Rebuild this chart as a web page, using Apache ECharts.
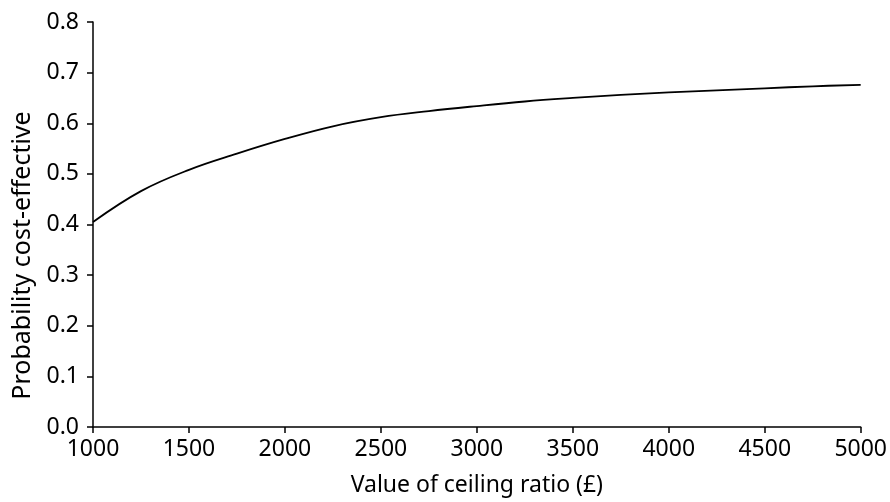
<!DOCTYPE html>
<html><head><meta charset="utf-8">
<script src="https://cdn.jsdelivr.net/npm/echarts@6/dist/echarts.min.js"></script>
<style>html,body{margin:0;padding:0;background:#fff}#c{width:890px;height:502px}</style>
</head><body><div id="c"></div>
<script>
const ceilingRatio = [1000,1250,1500,1750,2000,2250,2500,2750,3000,3250,3500,3750,4000,4250,4500,4750,5000];
const probCostEffective = [0.405,0.466,0.508,0.540,0.569,0.594,0.612,0.624,0.634,0.643,0.650,0.656,0.661,0.665,0.669,0.673,0.676];
const xAxisTitle = 'Value of ceiling ratio (£)';
const yAxisTitle = 'Probability cost-effective';

const chart = echarts.init(document.getElementById('c'));
const font = 'Noto Sans, Open Sans, sans-serif';
chart.setOption({
  animation: false,
  grid: {left: 93, right: 28, top: 22, bottom: 72},
  xAxis: {
    type: 'value', min: 1000, max: 5000, interval: 500,
    name: xAxisTitle, nameLocation: 'middle', nameGap: 47,
    nameTextStyle: {color: '#000', fontSize: 23, fontFamily: font},
    axisLine: {lineStyle: {color: '#000', width: 1.5}},
    axisTick: {show: true, length: 6, lineStyle: {color: '#000', width: 1.5}},
    axisLabel: {color: '#000', fontSize: 23, fontFamily: font, margin: 11,
      formatter: v => String(v)},
    splitLine: {show: false}
  },
  yAxis: {
    type: 'value', min: 0, max: 0.8, interval: 0.1,
    name: yAxisTitle, nameLocation: 'middle', nameGap: 57,
    nameTextStyle: {color: '#000', fontSize: 25, fontFamily: font, padding: [0, 62, 0, 0]},
    axisLine: {show: true, lineStyle: {color: '#000', width: 1.5}},
    axisTick: {show: true, length: 6, lineStyle: {color: '#000', width: 1.5}},
    axisLabel: {color: '#000', fontSize: 23, fontFamily: font, margin: 14,
      formatter: v => v.toFixed(1)},
    splitLine: {show: false}
  },
  series: [{
    type: 'line', smooth: 0.4, showSymbol: false,
    data: ceilingRatio.map((x, i) => [x, probCostEffective[i]]),
    lineStyle: {color: '#000', width: 1.8}
  }]
});
</script></body></html>
